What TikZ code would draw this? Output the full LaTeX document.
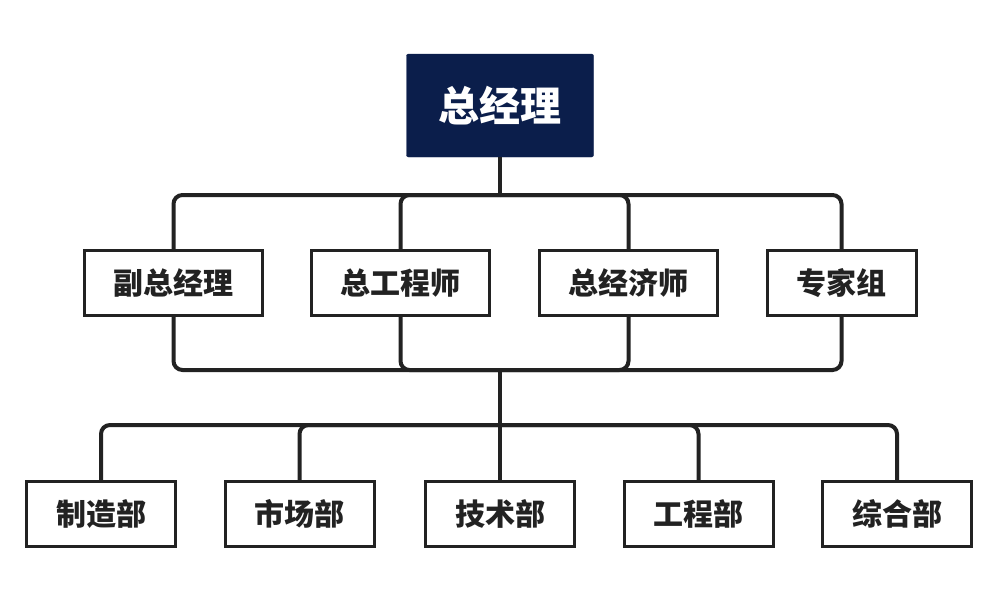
\documentclass[tikz,border=0pt]{standalone}
\usepackage{fontspec}
\newfontfamily\cjk{Noto Sans CJK SC}
\definecolor{navy}{HTML}{0B1E4B}
\definecolor{ink}{HTML}{222222}

\begin{document}
\begin{tikzpicture}[x=1pt, y=-1pt,
        box/.style={draw=ink, line width=3pt, fill=white, inner sep=0pt, minimum height=65pt, font=\cjk\bfseries\fontsize{30}{30}\selectfont, text=ink},
        wide/.style={box, minimum width=178pt},
        narrow/.style={box, minimum width=149pt},
        link/.style={draw=ink, line width=4pt, rounded corners=9pt}]
        
        \useasboundingbox (0,0) rectangle (1000,608);
        
        % top
        \node[fill=navy, draw=navy, rounded corners=2pt, minimum width=187pt, minimum height=103pt, inner sep=0pt,
              text=white, font=\cjk\bfseries\fontsize{41}{41}\selectfont] (gm) at (500,105.5) {总经理};
        
        % middle row
        \node[wide] (vp) at (173.5,283) {副总经理}; % deputy
        \node[wide] (ce) at (400.5,283) {总工程师};
        \node[wide] (ec) at (628.5,283) {总经济师};
        \node[narrow] (ex) at (841.5,283) {专家组};
        
        % bottom row
        \node[narrow] (mf) at (101,514) {制造部};
        \node[narrow] (mk) at (299.5,514) {市场部};
        \node[narrow] (te) at (500,514) {技术部};
        \node[narrow] (en) at (698.5,514) {工程部};
        \node[narrow] (ad) at (897,514) {综合部};
        
        % junction points
        \coordinate (up) at (500,195);
        \coordinate (mid) at (500,370);
        \coordinate (low) at (500,425);
        
        % lines of the middle row
        \draw[link] (gm.south) -- (up);
        \foreach \n in {vp,ce,ec,ex} {
            \draw[link] (up) -| (\n.north);
            \draw[link] (\n.south) |- (mid);
        }
        \draw[link] (mid) -- (low);
        
        % lines of the bottom row
        \foreach \n in {mf,mk,te,en,ad}
            \draw[link] (low) -| (\n.north);
        
        \end{tikzpicture}
\end{document}
